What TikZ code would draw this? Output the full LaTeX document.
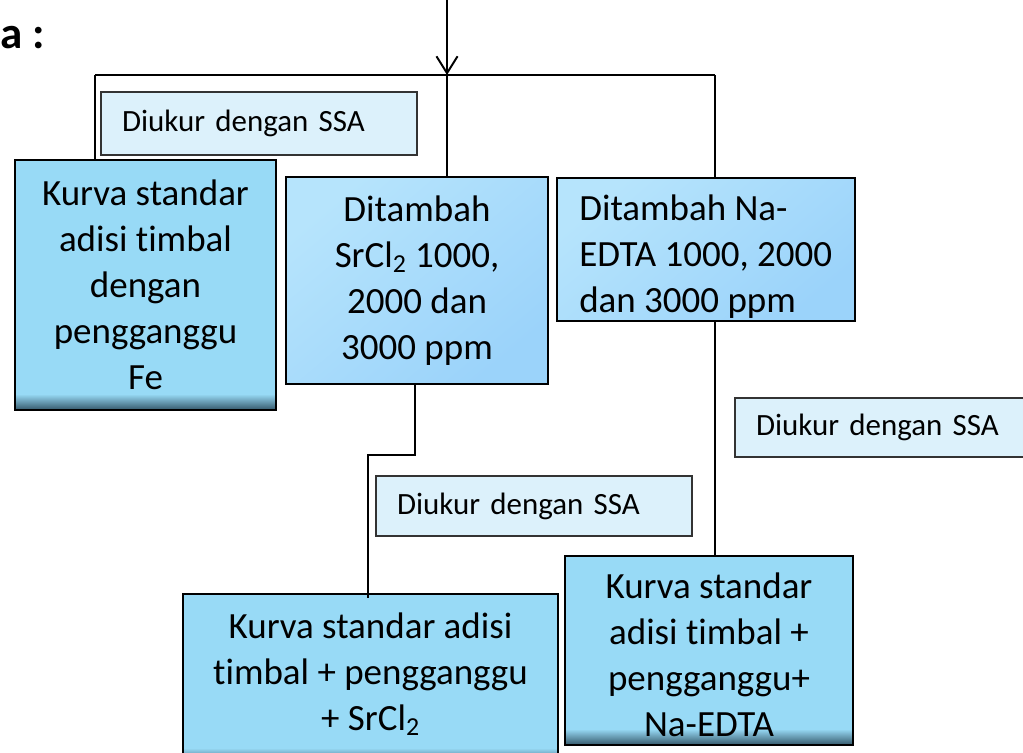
\documentclass[tikz,border=0pt]{standalone}
\usepackage{fontspec}
\setmainfont{Carlito}[Ligatures=NoCommon]
\usetikzlibrary{arrows.meta}
\definecolor{biru}{HTML}{98DAF6}
\definecolor{birugelap}{HTML}{3A6072}
\definecolor{birumuda}{HTML}{B6E4FC}
\definecolor{birutua}{HTML}{9BD3FA}
\definecolor{birupucat}{HTML}{DCF1FB}
\newdimen\pxu \pxu=0.025cm
\tikzset{
  garis/.style={line width=1.4pt, black},
  teksbesar/.style={align=center, inner sep=0pt, font=\fontsize{26.3}{32.7}\selectfont},
  kotak/.style={draw, line width=1.4pt, fill=biru, teksbesar,
    path picture={\foreach \i in {0,...,15} {
        \pgfmathsetmacro\pct{\i*100/15}
        \fill[birugelap!\pct!biru] ([yshift=(16.4-\i)*\pxu]path picture bounding box.south west)
          rectangle ([yshift=(15-\i)*\pxu]path picture bounding box.south east);}}},
  kotakgradasi/.style={draw, line width=1.4pt, top color=birumuda, bottom color=birutua, shading angle=40, teksbesar},
  ukur/.style={draw=black!80, line width=1pt, fill=birupucat, align=left, inner ysep=0pt, inner xsep=21*\pxu,
    text width=274*\pxu, font=\fontsize{22}{26}\selectfont},
}
\begin{document}
\begin{tikzpicture}[x=0.025cm, y=-0.025cm]
    \useasboundingbox (0,0) rectangle (1023,752);
    % Judul
    \node[font=\fontsize{32}{34}\selectfont\bfseries, anchor=base west, inner sep=0pt] (judul) at (0,48) {a :};
    % Panah masuk dan cabang atas
    \coordinate (atas) at (447,0);
    \coordinate (cabang) at (447,75);
    \coordinate (kiri) at (95,75);
    \coordinate (kanan) at (715,75);
    \draw[garis, -{Straight Barb[length=12pt, width=15pt, line width=1.4pt]}] (atas) -- (cabang);
    \draw[garis] (kiri) -- (kanan);
    % Kotak-kotak utama
    \node[kotak, minimum width=261*\pxu, minimum height=250*\pxu] (Fe) at (145.5,285)
        {Kurva standar\\adisi timbal\\dengan\\pengganggu\\Fe};
    \node[kotakgradasi, minimum width=262*\pxu, minimum height=207*\pxu] (Sr) at (417,280.5)
        {Ditambah\\SrCl\textsubscript{2} 1000,\\2000 dan\\3000 ppm};
    \node[kotakgradasi, minimum width=298*\pxu, minimum height=143*\pxu] (Na) at (706,249.5) {};
    \node[teksbesar, align=left, anchor=west] (teksNa) at (579,257)
        {Ditambah Na-\\EDTA 1000, 2000\\dan 3000 ppm};
    \node[kotak, minimum width=375*\pxu, minimum height=170*\pxu] (KSr) at (370.5,679) {};
    \node[teksbesar] (teksKSr) at (370.5,674)
        {Kurva standar adisi\\timbal + pengganggu\\+ SrCl\textsubscript{2}};
    \node[kotak, minimum width=288*\pxu, minimum height=189*\pxu] (KNa) at (709,650.5) {};
    \node[teksbesar] (teksKNa) at (709,655)
        {Kurva standar\\adisi timbal +\\pengganggu+\\Na-EDTA};
    % Keterangan pengukuran
    \node[ukur, minimum height=63*\pxu] (ukur1) at (259,123.5) {Diukur dengan SSA};
    \node[ukur, minimum height=60*\pxu] (ukur2) at (534,506) {Diukur dengan SSA};
    \node[ukur, minimum height=59*\pxu] (ukur3) at (893,427.5) {Diukur dengan SSA};
    % Garis penghubung
    \draw[garis] (kiri) -- (kiri |- Fe.north);
    \draw[garis] (cabang) -- (cabang |- Sr.north);
    \draw[garis] (kanan) -- (kanan |- Na.north);
    \coordinate (belok) at (415,455);
    \draw[garis] (belok |- Sr.south) -- (belok) -- ++(-47,0) coordinate (belok2) -- ([yshift=-5*\pxu]belok2 |- KSr.north);
    \draw[garis] (kanan |- Na.south) -- (kanan |- KNa.north);
\end{tikzpicture}
\end{document}
